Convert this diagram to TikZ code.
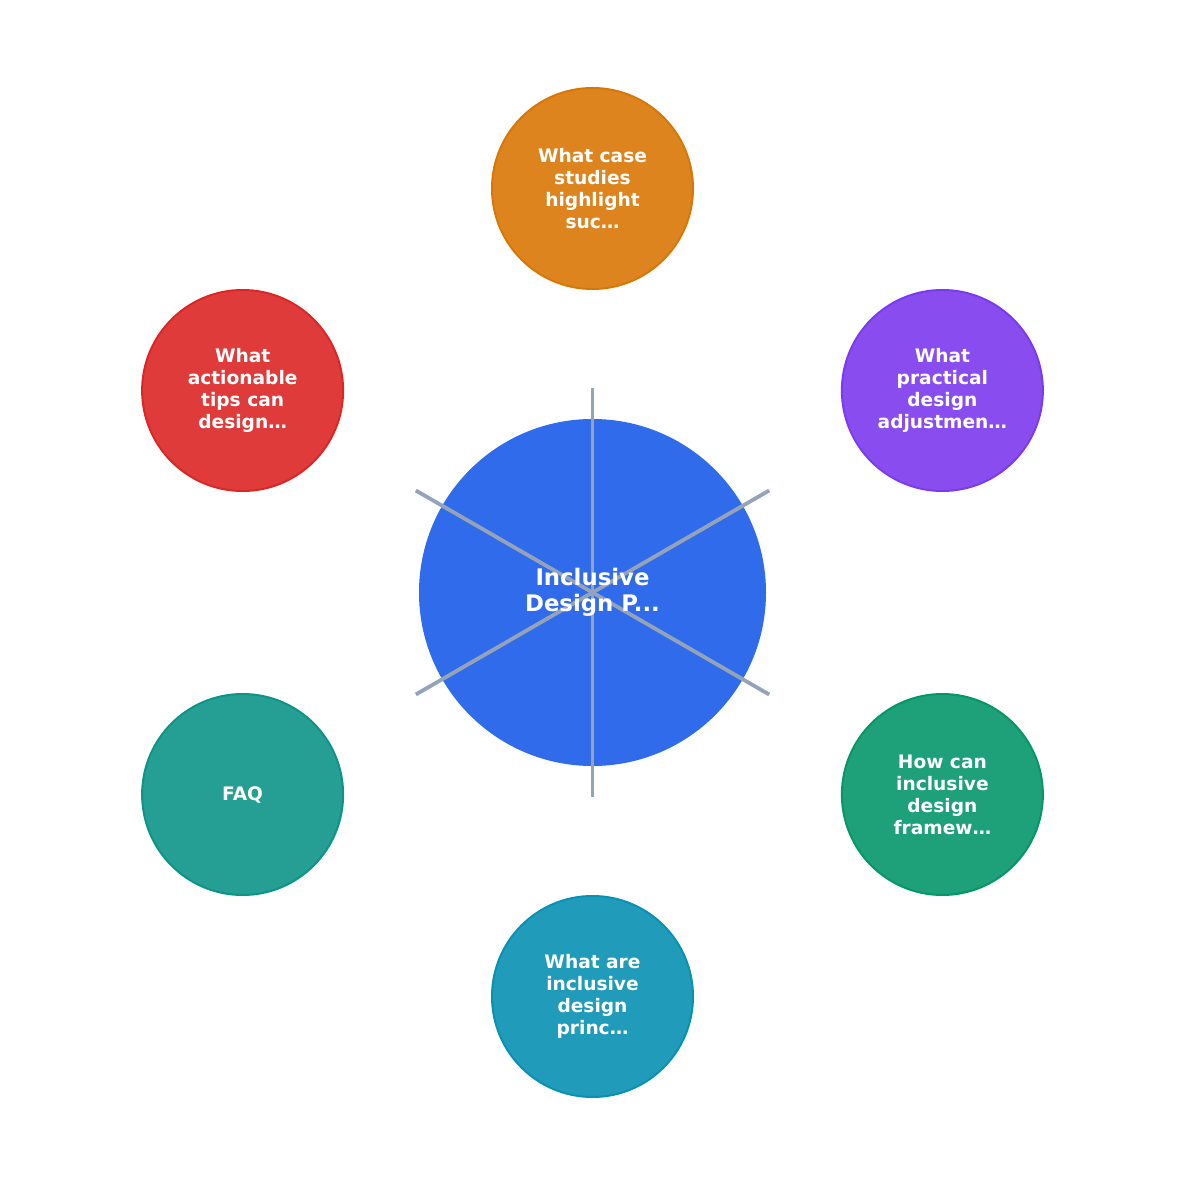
\documentclass[tikz,border=0pt]{standalone}
\usepackage{fontspec}
\setmainfont{DejaVu Sans}
\definecolor{hubblue}{HTML}{2563EB}
\definecolor{spokegray}{HTML}{94A3B8}
\definecolor{qorange}{HTML}{D97706}
\definecolor{qpurple}{HTML}{7C3AED}
\definecolor{qgreen}{HTML}{059669}
\definecolor{qcyan}{HTML}{0891B2}
\definecolor{qteal}{HTML}{0D9488}
\definecolor{qred}{HTML}{DC2626}

\begin{document}
\begin{tikzpicture}[x=1pt, y=1pt,
		hub/.style = {circle, minimum size=347pt, inner sep=0pt, fill=hubblue, fill opacity=0.95, draw=none},
		hubtext/.style = {text=white, align=center, font=\bfseries\fontsize{22.8}{26}\selectfont},
		block/.style = {circle, minimum size=201pt, inner sep=0pt, line width=2pt, draw=#1, fill=#1, fill opacity=0.9, text opacity=1, text=white, align=center, font=\bfseries\fontsize{18.6}{22}\selectfont},
		spoke/.style = {draw=spokegray, line width=3.8pt}]
		\useasboundingbox (-592.5,-592.5) rectangle (592.5,592.5);
		\def\r{404};
		\def\s{204};
		\node[hub] (hub) at (0,0) {};
		\foreach \a in {90,30,-30,-90,-150,150}
			\coordinate (tip\a) at (\a:\s);
		\foreach \a in {90,30,-30,-90,-150,150}
			\draw[spoke] (hub.center) -- (tip\a);
		\node[hubtext] (title) at (hub.center) {Inclusive\\Design P...};
		\node[block=qorange] (q1) at (90:\r) {What case\\studies\\highlight\\suc…};
		\node[block=qpurple] (q2) at (30:\r) {What\\practical\\design\\adjustmen…};
		\node[block=qgreen] (q3) at (-30:\r) {How can\\inclusive\\design\\framew…};
		\node[block=qcyan] (q4) at (-90:\r) {What are\\inclusive\\design\\princ…};
		\node[block=qteal] (q5) at (-150:\r) {\raisebox{-4pt}{FAQ}};
		\node[block=qred] (q6) at (150:\r) {What\\actionable\\tips can\\design…};
	\end{tikzpicture}
\end{document}
